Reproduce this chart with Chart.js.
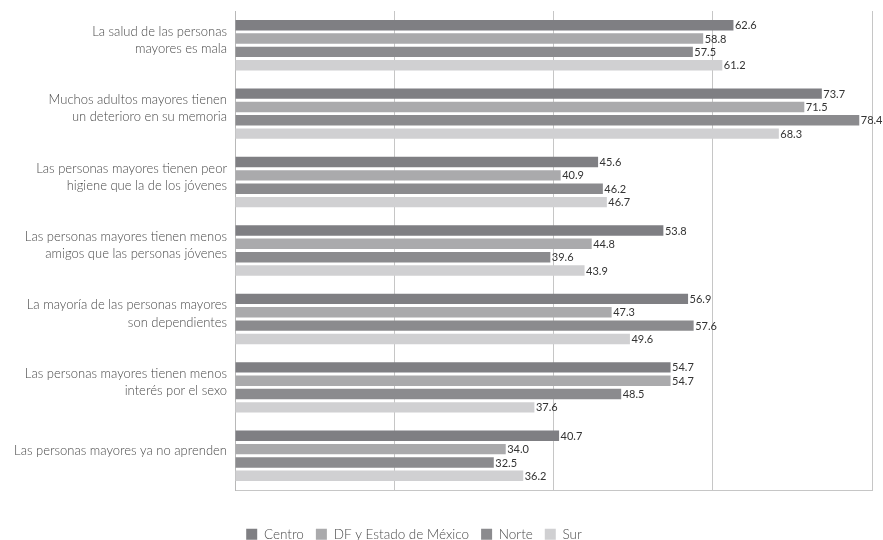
<!DOCTYPE html>
<html>
<head>
<meta charset="utf-8">
<script src="https://cdn.jsdelivr.net/npm/chart.js@4/dist/chart.umd.min.js"></script>
<style>
  html, body { margin: 0; padding: 0; background: #fff; }
  #wrap { width: 883px; height: 540px; }
</style>
</head>
<body>
<div id="wrap"><canvas id="grafica"></canvas></div>
<script>
// Afirmaciones (etiquetas del eje vertical, en varias líneas)
const afirmaciones = [
  ["La salud de las personas", "mayores es mala"],
  ["Muchos adultos mayores tienen", "un deterioro en su memoria"],
  ["Las personas mayores tienen peor", "higiene que la de los jóvenes"],
  ["Las personas mayores tienen menos", "amigos que las personas jóvenes"],
  ["La mayoría de las personas mayores", "son dependientes"],
  ["Las personas mayores tienen menos", "interés por el sexo"],
  "Las personas mayores ya no aprenden"
];

const regiones = ["Centro", "DF y Estado de México", "Norte", "Sur"];

// Porcentajes por región
const centro = [62.6, 73.7, 45.6, 53.8, 56.9, 54.7, 40.7];
const dfEdomex = [58.8, 71.5, 40.9, 44.8, 47.3, 54.7, 34.0];
const norte = [57.5, 78.4, 46.2, 39.6, 57.6, 48.5, 32.5];
const sur = [61.2, 68.3, 46.7, 43.9, 49.6, 37.6, 36.2];

const colores = ["#7f7f83", "#aaaaac", "#8b8b8e", "#d0d0d2"];
const series = [centro, dfEdomex, norte, sur];

const fuente = "Lato, 'Open Sans', sans-serif";

// Escribe el valor al final de cada barra
const etiquetasValor = {
  id: "etiquetasValor",
  afterDatasetsDraw(chart) {
    const ctx = chart.ctx;
    ctx.save();
    ctx.font = "11px " + fuente;
    ctx.fillStyle = "#333";
    ctx.textAlign = "left";
    ctx.textBaseline = "middle";
    chart.data.datasets.forEach((ds, i) => {
      chart.getDatasetMeta(i).data.forEach((bar, j) => {
        ctx.fillText(ds.data[j].toFixed(1), bar.x + 1.5, bar.y + 0.5);
      });
    });
    ctx.restore();
  }
};

// Corre la leyenda un poco a la izquierda
const leyendaIzquierda = {
  id: "leyendaIzquierda",
  afterLayout(chart) {
    chart.legend.left -= 22;
    chart.legend.right -= 22;
  }
};

new Chart(document.getElementById("grafica"), {
  type: "bar",
  data: {
    labels: afirmaciones,
    datasets: regiones.map((r, i) => ({
      label: r,
      data: series[i],
      backgroundColor: colores[i],
      categoryPercentage: 0.78,
      barPercentage: 0.78
    }))
  },
  options: {
    indexAxis: "y",
    responsive: true,
    maintainAspectRatio: false,
    animation: false,
    layout: { padding: { top: 11, right: 11, left: 0, bottom: 0 } },
    scales: {
      x: {
        min: 0,
        max: 80,
        ticks: { display: false, stepSize: 20 },
        grid: { color: "#c6c6c6", drawTicks: false, lineWidth: 1 },
        border: { color: "#c6c6c6" },
        afterFit(scale) { scale.height = 25.5; }
      },
      y: {
        grid: { display: false, drawTicks: false },
        border: { color: "#b8b8b8" },
        ticks: {
          color: "#4a4a4a",
          padding: 8,
          labelOffset: -5,
          font: { family: fuente, size: 13, weight: 300, lineHeight: 1.33 }
        },
        afterFit(scale) {
          scale.width = 235;
          scale.paddingTop = 0;
          scale.paddingBottom = 0;
        }
      }
    },
    plugins: {
      legend: {
        position: "bottom",
        maxHeight: 24.5,
        labels: {
          color: "#4a4a4a",
          boxWidth: 11,
          boxHeight: 11,
          padding: 12,
          font: { family: fuente, size: 13.5, weight: 300 }
        }
      },
      tooltip: { enabled: false }
    }
  },
  plugins: [etiquetasValor, leyendaIzquierda]
});
</script>
</body>
</html>
